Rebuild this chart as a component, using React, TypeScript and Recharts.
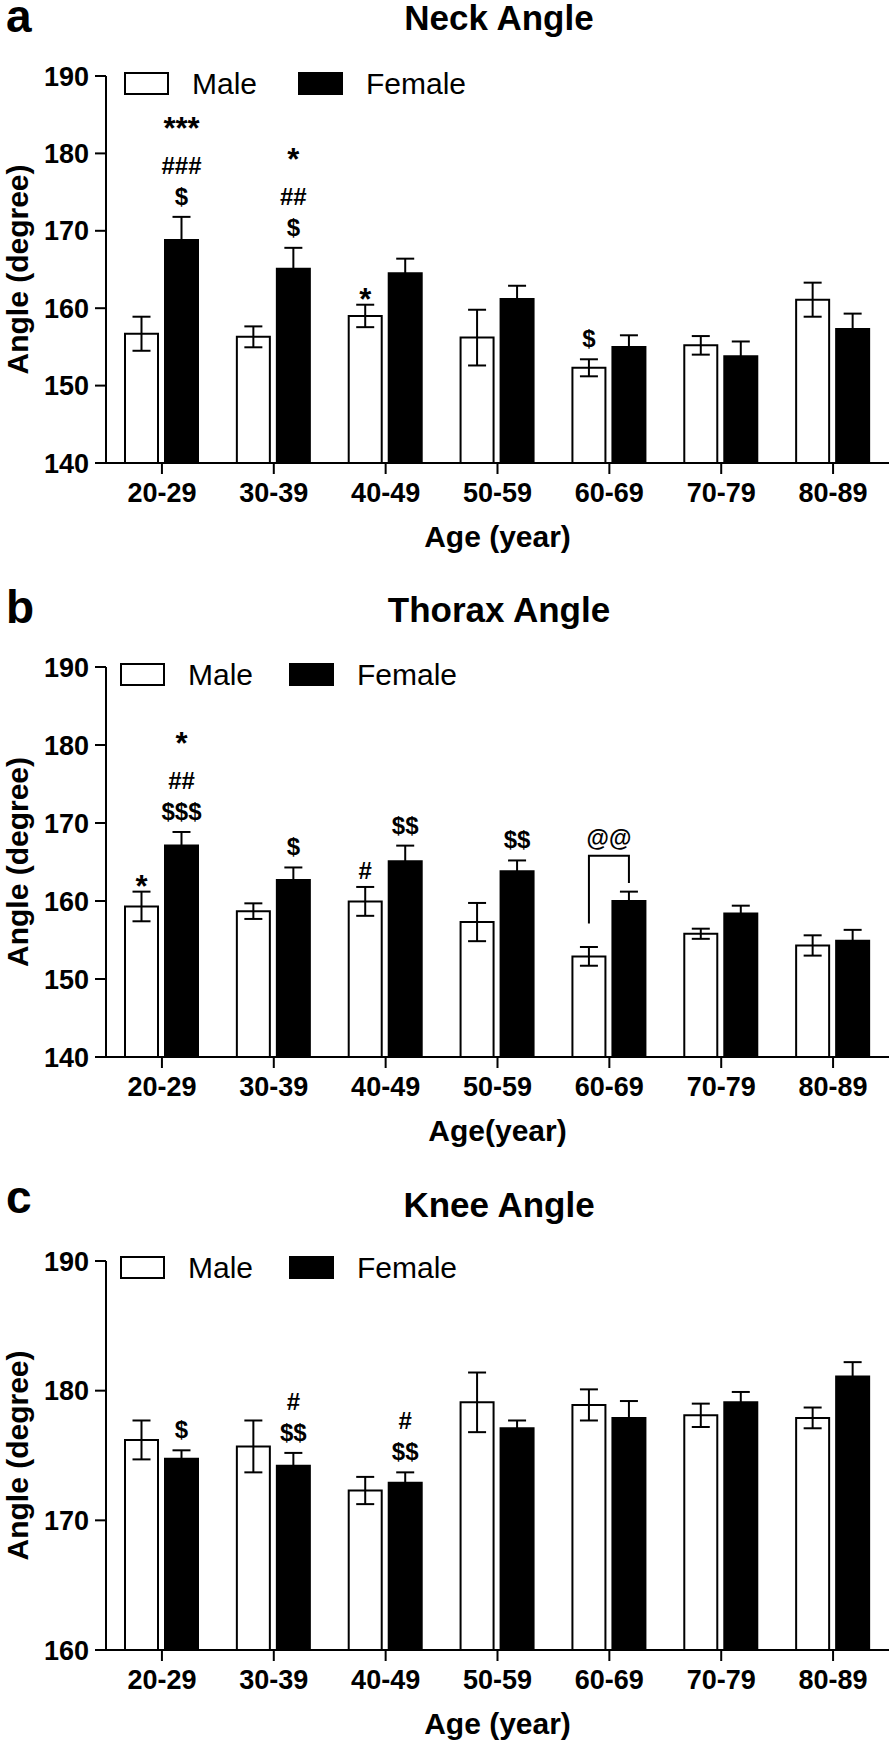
import { Bar, BarChart, ErrorBar, LabelList, Legend, XAxis, YAxis } from 'recharts';

const font = 'Arial, "Liberation Sans", Helvetica, sans-serif';

const ageGroups = ['20-29', '30-39', '40-49', '50-59', '60-69', '70-79', '80-89'];

// a. neck angle, mean and SEM
const neckMale = [156.7, 156.3, 159.0, 156.2, 152.3, 155.2, 161.1];
const neckMaleSe = [2.2, 1.35, 1.45, 3.6, 1.1, 1.2, 2.2];
const neckFemale = [168.8, 165.1, 164.5, 161.2, 155.0, 153.8, 157.3];
const neckFemaleSe = [3.0, 2.7, 1.9, 1.7, 1.5, 1.9, 2.0];
const neckMaleMarks = [[], [], ['*'], [], ['$'], [], []];
const neckFemaleMarks = [['***', '###', '$'], ['*', '##', '$'], [], [], [], [], []];

// b. thorax angle
const thoraxMale = [159.3, 158.7, 159.95, 157.3, 152.9, 155.8, 154.3];
const thoraxMaleSe = [1.9, 1.0, 1.85, 2.45, 1.2, 0.65, 1.3];
const thoraxFemale = [167.1, 162.7, 165.1, 163.8, 160.0, 158.4, 154.9];
const thoraxFemaleSe = [1.75, 1.6, 2.0, 1.4, 1.2, 1.0, 1.4];
const thoraxMaleMarks = [['*'], [], ['#'], [], [], [], []];
const thoraxFemaleMarks = [['*', '##', '$$$'], ['$'], ['$$'], ['$$'], [], [], []];
// bracket between male and female 60-69: top, left foot, right foot
const thoraxBracket = { group: 4, text: '@@', top: 165.8, left: 157.1, right: 162.3 };

// c. knee angle
const kneeMale = [176.2, 175.7, 172.3, 179.1, 178.9, 178.1, 177.9];
const kneeMaleSe = [1.5, 2.0, 1.05, 2.3, 1.2, 0.9, 0.8];
const kneeFemale = [174.75, 174.2, 172.9, 177.1, 177.9, 179.1, 181.1];
const kneeFemaleSe = [0.65, 1.0, 0.8, 0.6, 1.3, 0.8, 1.1];
const kneeMaleMarks = [[], [], [], [], [], [], []];
const kneeFemaleMarks = [['$'], ['#', '$$'], ['#', '$$'], [], [], [], []];

const BAR = 33;
const GAP = 7;

const panels = [
  {
    letter: 'a', title: 'Neck Angle', xLabel: 'Age (year)',
    male: neckMale, maleSe: neckMaleSe, female: neckFemale, femaleSe: neckFemaleSe,
    maleMarks: neckMaleMarks, femaleMarks: neckFemaleMarks, bracket: null as any,
    domain: [140, 190], ticks: [140, 150, 160, 170, 180, 190],
    top: 0, height: 580, marginTop: 76, plotH: 387,
    titleY: 30, letterY: 32, legendMale: 125, legendFemale: 299, legendY: 73,
  },
  {
    letter: 'b', title: 'Thorax Angle', xLabel: 'Age(year)',
    male: thoraxMale, maleSe: thoraxMaleSe, female: thoraxFemale, femaleSe: thoraxFemaleSe,
    maleMarks: thoraxMaleMarks, femaleMarks: thoraxFemaleMarks, bracket: thoraxBracket,
    domain: [140, 190], ticks: [140, 150, 160, 170, 180, 190],
    top: 580, height: 600, marginTop: 87, plotH: 390,
    titleY: 42, letterY: 43, legendMale: 121, legendFemale: 290, legendY: 84,
  },
  {
    letter: 'c', title: 'Knee Angle', xLabel: 'Age (year)',
    male: kneeMale, maleSe: kneeMaleSe, female: kneeFemale, femaleSe: kneeFemaleSe,
    maleMarks: kneeMaleMarks, femaleMarks: kneeFemaleMarks, bracket: null as any,
    domain: [160, 190], ticks: [160, 170, 180, 190],
    top: 1180, height: 565, marginTop: 81, plotH: 389,
    titleY: 37, letterY: 33, legendMale: 121, legendFemale: 290, legendY: 77,
  },
];

const box = (p: any) => p.viewBox ?? p;

function renderMarks(p: any, marks: string[][], means: number[], ses: number[], floor: number) {
  const i = p.index;
  const lines = marks[i] || [];
  if (!lines.length) return null;
  const { x, y, width, height } = box(p);
  const perUnit = height / (means[i] - floor);
  const errTop = y - ses[i] * perUnit;
  const cx = x + width / 2;
  let base = errTop;
  const out = [...lines].reverse().map((line, k) => {
    const star = line.startsWith('*');
    if (k === 0) base = errTop - (star ? -5 : line.startsWith('#') ? 8 : 12);
    else base -= star ? 35 : 31;
    return (
      <text key={k} x={cx} y={base} textAnchor="middle" fontFamily={font} fontSize={star ? 31 : 24} fontWeight="bold" fill="#000">
        {line}
      </text>
    );
  });
  return <g key={`m-${i}`}>{out}</g>;
}

function renderBracket(p: any, br: any, means: number[], floor: number) {
  if (!br || p.index !== br.group) return null;
  const { x, y, width, height } = box(p);
  const perUnit = height / (means[p.index] - floor);
  const bottom = y + height;
  const yOf = (v: number) => bottom - (v - floor) * perUnit;
  const fx = x + width / 2;
  const mx = fx - width - GAP;
  return (
    <g key="bracket">
      <path d={`M${mx},${yOf(br.left)} V${yOf(br.top)} H${fx} V${yOf(br.right)}`} fill="none" stroke="#000" strokeWidth={2} />
      <text x={(mx + fx) / 2} y={yOf(br.top) - 10} textAnchor="middle" fontFamily={font} fontSize={23} fontWeight="bold" fill="#000">
        {br.text}
      </text>
    </g>
  );
}

function YLabel({ viewBox }: any) {
  const cy = viewBox.y + viewBox.height / 2;
  return (
    <text x={17} y={cy} transform={`rotate(-90 17 ${cy})`} textAnchor="middle" dominantBaseline="central"
      fontFamily={font} fontSize={30} fontWeight="bold" fill="#000">
      Angle (degree)
    </text>
  );
}

function XLabel({ viewBox, text }: any) {
  return (
    <text x={viewBox.x + viewBox.width / 2} y={viewBox.y + 84} textAnchor="middle"
      fontFamily={font} fontSize={30} fontWeight="bold" fill="#000">
      {text}
    </text>
  );
}

const legendContent = (mx: number, fx: number, ly: number) => () => (
  <svg width={894} height={130} style={{ display: 'block' }}>
    <rect x={mx} y={ly} width={43} height={21} fill="#fff" stroke="#000" strokeWidth={2} />
    <text x={mx + 67} y={ly + 21} fontFamily={font} fontSize={30} fill="#000">Male</text>
    <rect x={fx} y={ly} width={43} height={21} fill="#000" stroke="#000" strokeWidth={2} />
    <text x={fx + 67} y={ly + 21} fontFamily={font} fontSize={30} fill="#000">Female</text>
  </svg>
);

const tickStyle = { fill: '#000', fontSize: 27, fontWeight: 'bold', fontFamily: font };

function Panel({ cfg }: any) {
  const data = ageGroups.map((g, i) => ({
    group: g,
    male: cfg.male[i],
    maleSe: cfg.maleSe[i],
    female: cfg.female[i],
    femaleSe: cfg.femaleSe[i],
  }));
  const floor = cfg.domain[0];
  const xAxisH = 90;
  const marginBottom = cfg.height - cfg.marginTop - cfg.plotH - xAxisH;
  return (
    <div style={{ position: 'absolute', top: cfg.top, left: 0, width: 894, height: cfg.height }}>
      <BarChart
        width={894}
        height={cfg.height}
        data={data}
        barSize={BAR}
        barGap={GAP}
        margin={{ top: cfg.marginTop, right: 5, bottom: marginBottom, left: 0 }}
      >
        <XAxis
          dataKey="group"
          height={xAxisH}
          interval={0}
          tick={tickStyle}
          tickSize={11}
          tickMargin={9}
          axisLine={{ stroke: '#000', strokeWidth: 2 }}
          tickLine={{ stroke: '#000', strokeWidth: 2 }}
          label={<XLabel text={cfg.xLabel} />}
        />
        <YAxis
          width={106}
          domain={cfg.domain}
          ticks={cfg.ticks}
          interval={0}
          allowDataOverflow
          tick={tickStyle}
          tickSize={11}
          tickMargin={6}
          axisLine={{ stroke: '#000', strokeWidth: 2 }}
          tickLine={{ stroke: '#000', strokeWidth: 2 }}
          label={<YLabel />}
        />
        <Legend
          layout="vertical"
          align="center"
          verticalAlign="middle"
          wrapperStyle={{ top: 0, left: 0, width: 894, height: 130 }}
          content={legendContent(cfg.legendMale, cfg.legendFemale, cfg.legendY)}
        />
        <Bar dataKey="male" name="Male" fill="#fff" stroke="#000" strokeWidth={2} isAnimationActive={false}>
          <ErrorBar dataKey="maleSe" direction="y" width={9} stroke="#000" strokeWidth={2} isAnimationActive={false} />
          <LabelList content={(p: any) => renderMarks(p, cfg.maleMarks, cfg.male, cfg.maleSe, floor)} />
        </Bar>
        <Bar dataKey="female" name="Female" fill="#000" stroke="#000" strokeWidth={2} isAnimationActive={false}>
          <ErrorBar dataKey="femaleSe" direction="y" width={9} stroke="#000" strokeWidth={2} isAnimationActive={false} />
          <LabelList content={(p: any) => renderMarks(p, cfg.femaleMarks, cfg.female, cfg.femaleSe, floor)} />
          <LabelList content={(p: any) => renderBracket(p, cfg.bracket, cfg.female, floor)} />
        </Bar>
      </BarChart>
      <svg width={894} height={60} overflow="visible" style={{ position: 'absolute', top: 0, left: 0, pointerEvents: 'none', overflow: 'visible' }}>
        <text x={6} y={cfg.letterY} fontFamily={font} fontSize={46} fontWeight="bold" fill="#000">{cfg.letter}</text>
        <text x={499} y={cfg.titleY} textAnchor="middle" fontFamily={font} fontSize={35} fontWeight="bold" fill="#000">{cfg.title}</text>
      </svg>
    </div>
  );
}

export default function App() {
  return (
    <div style={{ position: 'absolute', top: 0, left: 0, width: 894, height: 1745, background: '#fff' }}>
      {panels.map((cfg) => (
        <Panel key={cfg.letter} cfg={cfg} />
      ))}
    </div>
  );
}
